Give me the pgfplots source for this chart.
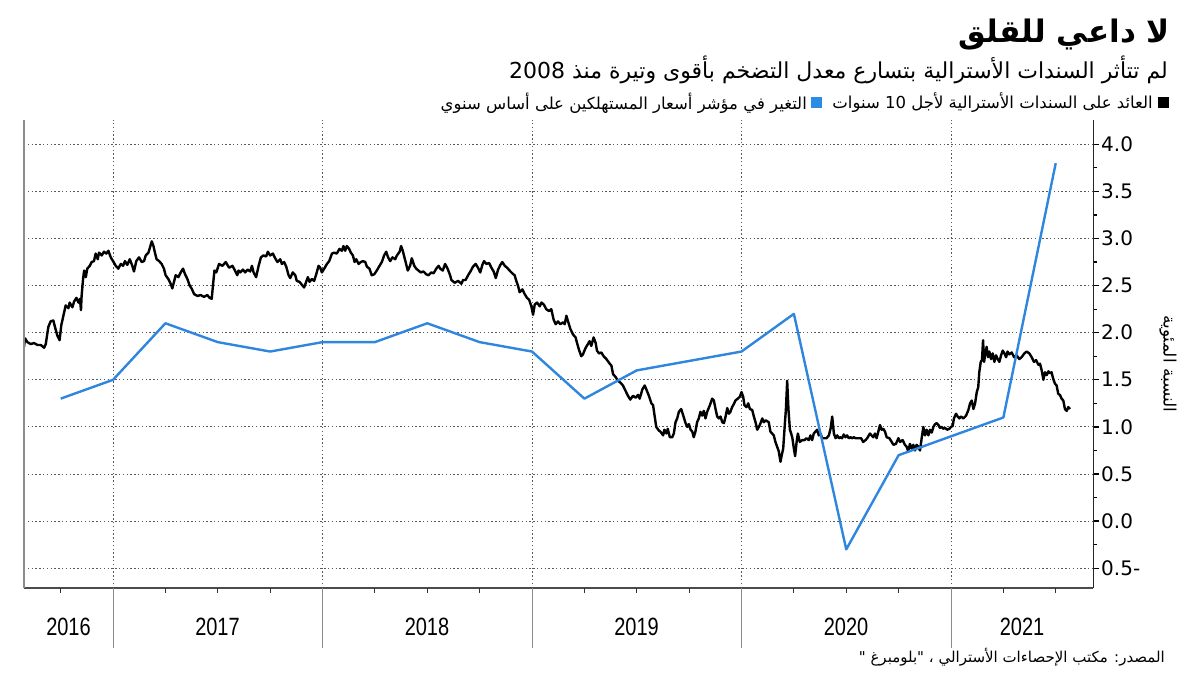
\documentclass[border=0pt]{standalone}
\usepackage{pgfplots}
\pgfplotsset{compat=1.18}
\usepackage{pgfplotstable}
\usepackage{fontspec}
\setmainfont{DejaVu Sans}
\newfontfamily\arabicfont[Script=Arabic]{DejaVu Sans}
\newfontfamily\yearfont{Liberation Sans}
\TeXXeTstate=1
\definecolor{cpiblue}{RGB}{46,134,222}
\definecolor{legblue}{RGB}{43,140,232}

\pgfplotstableread{
t v
2016.575 1.85
2016.580 1.94
2016.591 1.90
2016.607 1.88
2016.623 1.89
2016.639 1.87
2016.655 1.87
2016.671 1.84
2016.679 1.88
2016.691 2.06
2016.702 2.12
2016.715 2.13
2016.723 2.06
2016.734 1.97
2016.745 1.92
2016.753 2.08
2016.763 2.18
2016.774 2.29
2016.787 2.26
2016.793 2.32
2016.806 2.27
2016.814 2.33
2016.825 2.37
2016.835 2.32
2016.842 2.36
2016.847 2.24
2016.850 2.39
2016.857 2.57
2016.862 2.66
2016.870 2.59
2016.877 2.68
2016.889 2.71
2016.898 2.75
2016.909 2.76
2016.917 2.84
2016.927 2.78
2016.933 2.85
2016.946 2.82
2016.957 2.86
2016.968 2.84
2016.978 2.87
2016.989 2.80
2017.000 2.76
2017.013 2.71
2017.025 2.68
2017.037 2.73
2017.048 2.71
2017.057 2.76
2017.068 2.72
2017.080 2.78
2017.092 2.71
2017.100 2.65
2017.111 2.76
2017.124 2.80
2017.137 2.75
2017.148 2.76
2017.156 2.82
2017.169 2.85
2017.177 2.91
2017.185 2.97
2017.193 2.92
2017.200 2.85
2017.208 2.78
2017.220 2.76
2017.232 2.73
2017.243 2.68
2017.251 2.61
2017.264 2.57
2017.275 2.52
2017.283 2.47
2017.291 2.54
2017.299 2.61
2017.312 2.59
2017.323 2.64
2017.334 2.68
2017.344 2.62
2017.355 2.57
2017.366 2.50
2017.375 2.47
2017.387 2.41
2017.403 2.39
2017.418 2.40
2017.434 2.38
2017.450 2.40
2017.461 2.37
2017.471 2.36
2017.477 2.50
2017.484 2.66
2017.493 2.64
2017.506 2.73
2017.522 2.71
2017.538 2.75
2017.554 2.69
2017.570 2.71
2017.582 2.66
2017.593 2.61
2017.599 2.66
2017.607 2.64
2017.620 2.67
2017.631 2.64
2017.642 2.67
2017.655 2.65
2017.663 2.71
2017.671 2.64
2017.683 2.59
2017.695 2.71
2017.706 2.80
2017.718 2.82
2017.731 2.81
2017.739 2.86
2017.750 2.82
2017.763 2.84
2017.774 2.79
2017.785 2.75
2017.798 2.78
2017.806 2.73
2017.817 2.75
2017.827 2.70
2017.838 2.61
2017.846 2.58
2017.858 2.64
2017.870 2.61
2017.877 2.55
2017.890 2.54
2017.901 2.51
2017.912 2.48
2017.922 2.54
2017.930 2.59
2017.938 2.54
2017.949 2.57
2017.960 2.55
2017.970 2.62
2017.981 2.71
2017.989 2.69
2017.997 2.64
2018.008 2.68
2018.021 2.73
2018.032 2.76
2018.045 2.84
2018.056 2.85
2018.068 2.84
2018.081 2.89
2018.092 2.87
2018.100 2.92
2018.108 2.87
2018.116 2.92
2018.127 2.89
2018.135 2.85
2018.145 2.82
2018.153 2.75
2018.161 2.78
2018.172 2.73
2018.183 2.75
2018.193 2.76
2018.204 2.75
2018.212 2.70
2018.224 2.68
2018.235 2.61
2018.247 2.62
2018.259 2.66
2018.272 2.71
2018.283 2.75
2018.294 2.82
2018.304 2.86
2018.313 2.80
2018.323 2.76
2018.334 2.80
2018.347 2.78
2018.355 2.82
2018.368 2.86
2018.375 2.92
2018.383 2.87
2018.391 2.80
2018.399 2.73
2018.407 2.66
2018.418 2.71
2018.426 2.79
2018.438 2.71
2018.447 2.68
2018.458 2.66
2018.469 2.64
2018.482 2.65
2018.495 2.62
2018.506 2.61
2018.519 2.64
2018.530 2.63
2018.543 2.68
2018.554 2.71
2018.562 2.68
2018.574 2.66
2018.585 2.73
2018.597 2.68
2018.609 2.61
2018.615 2.56
2018.631 2.53
2018.647 2.55
2018.663 2.52
2018.671 2.56
2018.683 2.56
2018.695 2.61
2018.706 2.65
2018.718 2.70
2018.731 2.73
2018.742 2.69
2018.753 2.64
2018.763 2.72
2018.771 2.76
2018.782 2.73
2018.795 2.74
2018.806 2.69
2018.817 2.65
2018.827 2.58
2018.838 2.67
2018.849 2.72
2018.858 2.75
2018.870 2.71
2018.881 2.69
2018.893 2.66
2018.906 2.63
2018.917 2.61
2018.925 2.55
2018.933 2.50
2018.941 2.43
2018.954 2.46
2018.965 2.41
2018.976 2.37
2018.986 2.35
2018.997 2.28
2019.005 2.19
2019.013 2.30
2019.024 2.32
2019.037 2.28
2019.045 2.32
2019.056 2.30
2019.068 2.25
2019.081 2.23
2019.092 2.25
2019.103 2.14
2019.113 2.09
2019.124 2.12
2019.135 2.09
2019.148 2.11
2019.156 2.09
2019.164 2.18
2019.172 2.12
2019.183 2.04
2019.196 1.98
2019.208 1.95
2019.215 1.89
2019.224 1.82
2019.235 1.75
2019.243 1.77
2019.256 1.84
2019.267 1.88
2019.275 1.91
2019.283 1.86
2019.294 1.95
2019.304 1.89
2019.310 1.81
2019.320 1.78
2019.331 1.79
2019.342 1.75
2019.355 1.72
2019.368 1.68
2019.379 1.65
2019.387 1.56
2019.399 1.53
2019.410 1.49
2019.422 1.47
2019.434 1.44
2019.447 1.38
2019.458 1.33
2019.469 1.29
2019.482 1.33
2019.495 1.31
2019.506 1.34
2019.514 1.30
2019.527 1.40
2019.538 1.44
2019.549 1.38
2019.558 1.33
2019.570 1.25
2019.578 1.23
2019.585 1.12
2019.593 1.00
2019.606 0.96
2019.613 0.95
2019.626 0.91
2019.632 0.97
2019.642 0.93
2019.648 0.98
2019.658 0.89
2019.669 0.89
2019.677 0.93
2019.685 1.05
2019.693 1.09
2019.701 1.16
2019.712 1.19
2019.722 1.12
2019.733 1.04
2019.741 1.00
2019.749 1.03
2019.757 0.97
2019.765 0.95
2019.772 0.89
2019.780 0.95
2019.788 1.05
2019.796 1.09
2019.804 1.16
2019.812 1.12
2019.820 1.17
2019.828 1.09
2019.836 1.16
2019.849 1.23
2019.860 1.30
2019.868 1.28
2019.876 1.19
2019.884 1.11
2019.892 1.09
2019.900 1.11
2019.908 1.05
2019.916 1.04
2019.924 1.11
2019.932 1.20
2019.940 1.14
2019.947 1.16
2019.955 1.21
2019.963 1.24
2019.971 1.28
2019.982 1.30
2019.992 1.32
2020.000 1.37
2020.008 1.32
2020.014 1.23
2020.024 1.21
2020.032 1.25
2020.040 1.19
2020.051 1.18
2020.059 1.11
2020.067 1.05
2020.075 0.97
2020.083 1.00
2020.091 1.04
2020.099 1.09
2020.107 1.05
2020.115 1.07
2020.123 1.06
2020.130 1.05
2020.138 0.95
2020.146 0.93
2020.154 0.91
2020.162 0.84
2020.170 0.79
2020.178 0.74
2020.186 0.63
2020.194 0.72
2020.199 0.77
2020.205 0.97
2020.212 1.19
2020.218 1.49
2020.224 1.19
2020.231 0.97
2020.237 0.93
2020.243 0.88
2020.250 0.77
2020.256 0.69
2020.263 0.84
2020.269 0.93
2020.278 0.84
2020.290 0.86
2020.301 0.86
2020.310 0.88
2020.321 0.86
2020.329 0.91
2020.337 0.86
2020.345 0.93
2020.353 0.95
2020.361 0.97
2020.369 0.91
2020.377 0.93
2020.385 0.88
2020.393 0.88
2020.406 0.88
2020.417 0.91
2020.425 0.98
2020.433 1.11
2020.441 0.93
2020.449 0.88
2020.457 0.91
2020.465 0.88
2020.473 0.89
2020.480 0.88
2020.488 0.92
2020.496 0.89
2020.504 0.91
2020.512 0.88
2020.520 0.89
2020.528 0.88
2020.536 0.89
2020.544 0.88
2020.552 0.88
2020.560 0.88
2020.571 0.88
2020.581 0.84
2020.592 0.86
2020.600 0.88
2020.613 0.93
2020.617 0.92
2020.629 0.89
2020.637 0.93
2020.645 0.88
2020.653 0.95
2020.661 1.02
2020.669 0.97
2020.677 0.98
2020.685 0.95
2020.693 0.89
2020.706 0.88
2020.717 0.84
2020.725 0.81
2020.737 0.82
2020.749 0.88
2020.757 0.84
2020.769 0.86
2020.780 0.81
2020.788 0.79
2020.796 0.74
2020.804 0.82
2020.812 0.77
2020.820 0.81
2020.828 0.75
2020.836 0.81
2020.844 0.79
2020.852 0.75
2020.860 0.88
2020.868 1.00
2020.876 0.91
2020.884 0.97
2020.892 0.91
2020.900 0.97
2020.908 0.94
2020.916 1.00
2020.924 1.03
2020.932 1.04
2020.940 1.02
2020.947 0.99
2020.955 1.00
2020.963 0.98
2020.971 0.99
2020.982 0.97
2020.992 0.98
2021.000 1.00
2021.008 1.01
2021.014 1.09
2021.024 1.14
2021.032 1.11
2021.040 1.09
2021.048 1.11
2021.059 1.09
2021.072 1.12
2021.083 1.18
2021.091 1.25
2021.099 1.28
2021.107 1.19
2021.115 1.25
2021.123 1.37
2021.130 1.42
2021.135 1.58
2021.142 1.69
2021.148 1.71
2021.153 1.92
2021.158 1.69
2021.164 1.78
2021.170 1.85
2021.177 1.74
2021.183 1.80
2021.191 1.72
2021.199 1.78
2021.207 1.69
2021.215 1.76
2021.223 1.72
2021.231 1.69
2021.239 1.76
2021.247 1.81
2021.255 1.78
2021.263 1.74
2021.270 1.80
2021.278 1.77
2021.290 1.79
2021.301 1.74
2021.313 1.76
2021.326 1.72
2021.337 1.74
2021.350 1.78
2021.361 1.80
2021.374 1.78
2021.385 1.74
2021.396 1.69
2021.406 1.71
2021.417 1.66
2021.425 1.67
2021.433 1.60
2021.441 1.50
2021.449 1.58
2021.457 1.55
2021.465 1.59
2021.473 1.57
2021.480 1.58
2021.488 1.51
2021.496 1.46
2021.504 1.44
2021.512 1.35
2021.520 1.34
2021.528 1.30
2021.536 1.28
2021.544 1.19
2021.552 1.17
2021.560 1.21
2021.568 1.19
}\yield

\pgfplotstableread{
t v
2016.75 1.3
2017.00 1.5
2017.25 2.1
2017.50 1.9
2017.75 1.8
2018.00 1.9
2018.25 1.9
2018.50 2.1
2018.75 1.9
2019.00 1.8
2019.25 1.3
2019.50 1.6
2019.75 1.7
2020.00 1.8
2020.25 2.2
2020.50 -0.3
2020.75 0.7
2021.00 0.9
2021.25 1.1
2021.50 3.8
}\cpi

\begin{document}
\begin{tikzpicture}
\useasboundingbox (0pt,0pt) rectangle (1200pt,675pt);
\begin{axis}[
  at={(24pt,87pt)}, anchor=south west,
  width=1069pt, height=468pt, scale only axis,
  xmin=2016.575, xmax=2021.678, ymin=-0.710, ymax=4.258,
  clip mode=individual,
  axis x line*=bottom, axis y line*=right,
  x axis line style={draw=black!70, line width=1.4pt, -},
  y axis line style={draw=black!85, line width=1pt, -},
  xtick={2017,2018,2019,2020,2021}, xticklabels={,,,,},
  xtick style={draw=none},
  ytick={-0.5,0,0.5,1,1.5,2,2.5,3,3.5,4},
  yticklabels={0.5-,0.0,0.5,1.0,1.5,2.0,2.5,3.0,3.5,4.0},
  minor ytick={-0.25,0.25,0.75,1.25,1.75,2.25,2.75,3.25,3.75},
  ytick style={black, line width=1.3pt},
  minor tick length=4pt, major tick length=6pt, tick align=outside,
  yticklabel style={font=\fontsize{20}{24}\selectfont, inner xsep=2pt},
  /pgf/number format/assume math mode=true,
  grid=major,
  major grid style={black!65, line width=0.9pt, dash pattern=on 1.4pt off 2.4pt},
]
\addplot[black, line width=2.4pt, line join=round] table[x=t,y=v]{\yield};
\addplot[cpiblue, line width=2.4pt, line join=round] table[x=t,y=v]{\cpi};
\draw[black!45, line width=1.2pt] (rel axis cs:0,0) -- (rel axis cs:0,1);
\pgfplotsinvokeforeach{2017,2018,2019,2020,2021}{
  \draw[black!45, line width=1pt] (axis cs:#1,-0.710) -- ++(0pt,-60pt);
}
\pgfplotsinvokeforeach{2016.75,2017.25,2017.5,2017.75,2018.25,2018.5,2018.75,2019.25,2019.5,2019.75,2020.25,2020.5,2020.75,2021.25,2021.5}{
  \draw[black!80, line width=1pt] (axis cs:#1,-0.710) -- ++(0pt,-5pt);
}
\end{axis}
% year labels
\foreach \xx/\yy in {68.5/2016,217.5/2017,427/2018,636.5/2019,846/2020,1022/2021}{
  \node[font=\yearfont\fontsize{25}{30}\selectfont, inner sep=0pt] at (\xx pt,48pt) {\scalebox{0.8}[1]{\yy}};
}
% titles
\node[anchor=east, inner sep=0pt, font=\arabicfont\bfseries\fontsize{31}{37}\selectfont] at (1170pt,640pt) {\beginR لا داعي للقلق\endR};
\node[anchor=east, inner sep=0pt, font=\arabicfont\fontsize{22}{26}\selectfont] at (1168pt,605pt) {\beginR لم تتأثر السندات الأسترالية بتسارع معدل التضخم بأقوى وتيرة منذ \beginL 2008\endL\endR};
% legend
\node[fill=black, minimum size=11pt, inner sep=0pt] at (1163.5pt,572.5pt) {};
\node[anchor=east, inner sep=0pt, font=\arabicfont\fontsize{16.5}{19}\selectfont] at (1153pt,572pt) {\beginR العائد على السندات الأسترالية لأجل \beginL 10\endL{} سنوات\endR};
\node[fill=legblue, minimum size=11pt, inner sep=0pt] at (816.5pt,572.5pt) {};
\node[anchor=east, inner sep=0pt, font=\arabicfont\fontsize{16.5}{19}\selectfont] at (807pt,572pt) {\beginR التغير في مؤشر أسعار المستهلكين على أساس سنوي\endR};
% y label
\node[rotate=-90, inner sep=0pt, font=\arabicfont\fontsize{17}{20}\selectfont] at (1168pt,311pt) {\beginR النسبة المئوية\endR};
% source
\node[anchor=east, inner sep=0pt, font=\arabicfont\fontsize{15}{18}\selectfont] at (1165pt,18pt) {\beginR المصدر: مكتب الإحصاءات الأسترالي ، "بلومبرغ "\endR};
\end{tikzpicture}
\end{document}
